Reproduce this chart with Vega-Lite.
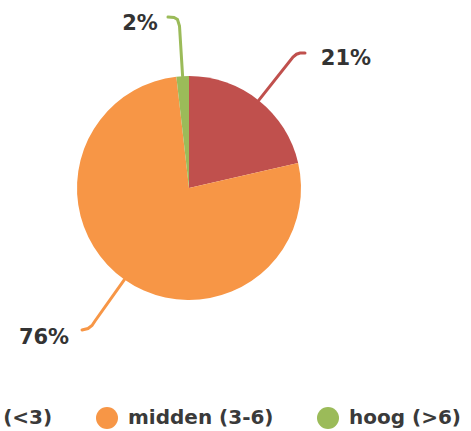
{
  "$schema": "https://vega.github.io/schema/vega-lite/v6.json",
  "width": 471,
  "height": 431,
  "autosize": "none",
  "padding": 0,
  "background": "white",
  "config": {"view": {"stroke": null}},
  "datasets": {
    "slices": [
      {"cat": "laag (<3)", "idx": 1, "value": 21.4, "label": "21%"},
      {"cat": "midden (3-6)", "idx": 2, "value": 76.8, "label": "76%"},
      {"cat": "hoog (>6)", "idx": 3, "value": 1.8, "label": "2%"}
    ],
    "leaders": [
      {"cat": "laag (<3)", "step": 1, "x": 0.6223, "y": 0.7830},
      {"cat": "laag (<3)", "step": 2, "x": 0.9286, "y": 1.1696},
      {"cat": "laag (<3)", "step": 3, "x": 0.9598, "y": 1.1946},
      {"cat": "laag (<3)", "step": 4, "x": 0.9911, "y": 1.2054},
      {"cat": "laag (<3)", "step": 5, "x": 1.0357, "y": 1.2054},
      {"cat": "hoog (>6)", "step": 1, "x": -0.0571, "y": 0.9982},
      {"cat": "hoog (>6)", "step": 2, "x": -0.0848, "y": 1.4464},
      {"cat": "hoog (>6)", "step": 3, "x": -0.1027, "y": 1.5045},
      {"cat": "hoog (>6)", "step": 4, "x": -0.1339, "y": 1.5223},
      {"cat": "hoog (>6)", "step": 5, "x": -0.1875, "y": 1.5268},
      {"cat": "midden (3-6)", "step": 1, "x": -0.5768, "y": -0.8170},
      {"cat": "midden (3-6)", "step": 2, "x": -0.8393, "y": -1.1875},
      {"cat": "midden (3-6)", "step": 3, "x": -0.8661, "y": -1.2277},
      {"cat": "midden (3-6)", "step": 4, "x": -0.9018, "y": -1.2545},
      {"cat": "midden (3-6)", "step": 5, "x": -0.9554, "y": -1.2679}
    ],
    "labels": [
      {"label": "21%", "x": 1.4018, "y": 1.1518},
      {"label": "2%", "x": -0.4375, "y": 1.4643},
      {"label": "76%", "x": -1.2946, "y": -1.3348}
    ]
  },
  "layer": [
    {
      "data": {"name": "slices"},
      "mark": {"type": "arc", "outerRadius": 112},
      "encoding": {
        "x": {"datum": 0, "type": "quantitative", "scale": {"domain": [-1.6875, 2.5179], "nice": false, "zero": false}, "axis": null},
        "y": {"datum": 0, "type": "quantitative", "scale": {"domain": [-2.1696, 1.6786], "nice": false, "zero": false}, "axis": null},
        "theta": {"field": "value", "type": "quantitative", "stack": true},
        "order": {"field": "idx", "type": "quantitative"},
        "color": {
          "field": "cat",
          "type": "nominal",
          "scale": {"domain": ["laag (<3)", "midden (3-6)", "hoog (>6)"], "range": ["#C0504D", "#F79646", "#9BBB59"]},
          "legend": {
            "title": null,
            "orient": "none",
            "direction": "horizontal",
            "legendX": -84,
            "legendY": 407,
            "symbolType": "circle",
            "symbolSize": 484,
            "symbolStrokeWidth": 0,
            "labelFont": "DejaVu Sans",
            "labelFontSize": 20,
            "labelFontWeight": "bold",
            "labelColor": "#3a3a3a",
            "labelOffset": 10,
            "columnPadding": 43,
            "labelLimit": 300
          }
        }
      }
    },
    {
      "data": {"name": "leaders"},
      "mark": {"type": "line", "strokeWidth": 3, "strokeCap": "round"},
      "encoding": {
        "x": {"field": "x", "type": "quantitative"},
        "y": {"field": "y", "type": "quantitative"},
        "order": {"field": "step", "type": "quantitative"},
        "color": {"field": "cat", "type": "nominal"}
      }
    },
    {
      "data": {"name": "labels"},
      "mark": {"type": "text", "font": "DejaVu Sans", "fontSize": 21, "fontWeight": "bold", "color": "#333333", "align": "center", "baseline": "middle"},
      "encoding": {
        "x": {"field": "x", "type": "quantitative"},
        "y": {"field": "y", "type": "quantitative"},
        "text": {"field": "label", "type": "nominal"}
      }
    }
  ]
}
